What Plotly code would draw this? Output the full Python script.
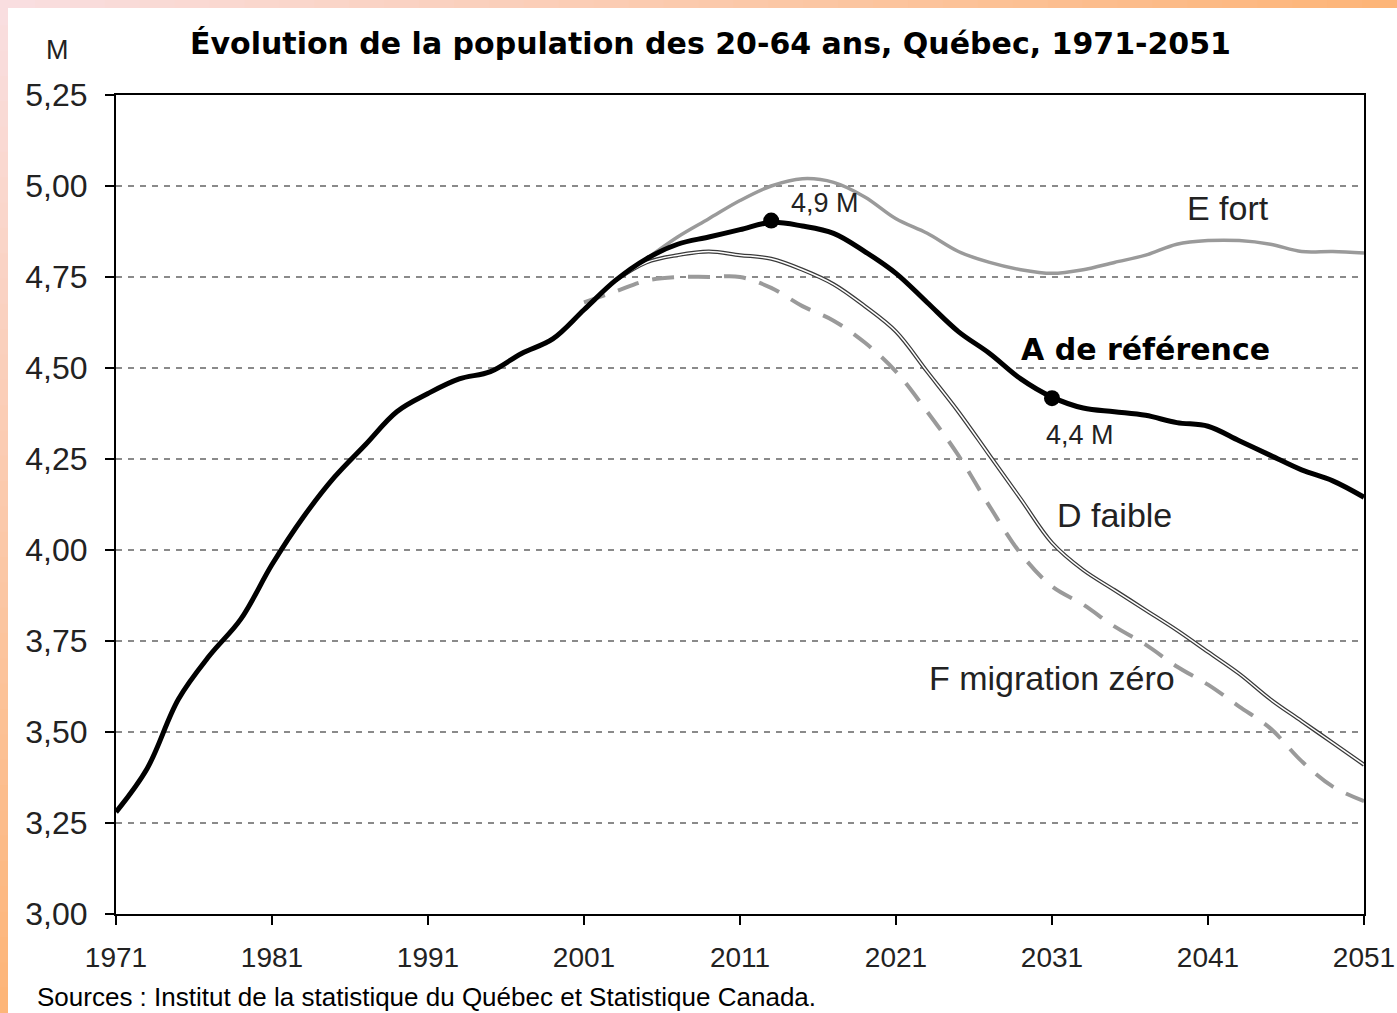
import plotly.graph_objects as go

# ---------------- data ----------------
years_ref = list(range(1971, 2052, 2))
pop_ref = [3.28, 3.40, 3.59, 3.71, 3.81, 3.96, 4.09, 4.20, 4.29, 4.38,
           4.43, 4.47, 4.49, 4.54, 4.58, 4.66, 4.74, 4.80, 4.84, 4.86,
           4.88, 4.90, 4.89, 4.87, 4.82, 4.76, 4.68, 4.60, 4.54, 4.47,
           4.42, 4.39, 4.38, 4.37, 4.35, 4.34, 4.30, 4.26, 4.22, 4.19, 4.145]

years_proj = list(range(2003, 2052, 2))
pop_fort = [4.74, 4.80, 4.86, 4.91, 4.96, 5.00, 5.02, 5.01, 4.97, 4.91,
            4.87, 4.82, 4.79, 4.77, 4.76, 4.77, 4.79, 4.81, 4.84, 4.85,
            4.85, 4.84, 4.82, 4.82, 4.816]
pop_faible = [4.74, 4.79, 4.81, 4.82, 4.81, 4.80, 4.77, 4.73, 4.67, 4.60,
              4.49, 4.38, 4.26, 4.14, 4.02, 3.945, 3.89, 3.835, 3.78, 3.72,
              3.66, 3.59, 3.53, 3.47, 3.41]

years_mig = list(range(2001, 2052, 2))
pop_mig = [4.68, 4.71, 4.74, 4.75, 4.75, 4.75, 4.72, 4.67, 4.63, 4.57,
           4.49, 4.38, 4.26, 4.12, 3.99, 3.90, 3.85, 3.79, 3.74, 3.68,
           3.63, 3.57, 3.51, 3.42, 3.35, 3.31]

marker_years = [2013, 2031]
marker_vals = [4.905, 4.417]
marker_labels = ["4,9 M", "4,4 M"]

x_ticks = list(range(1971, 2052, 10))
y_ticks = [3.00, 3.25, 3.50, 3.75, 4.00, 4.25, 4.50, 4.75, 5.00, 5.25]

title_text = "Évolution de la population des 20-64 ans, Québec, 1971-2051"
source_text = "Sources : Institut de la statistique du Québec et Statistique Canada."

# ---------------- geometry ----------------
W, H = 1397, 1013
ML, MR, MT, MB = 116, 33, 95, 99
PW, PH = W - ML - MR, H - MT - MB

def px(p):
    return (p - ML) / PW

def py(p):
    return (H - MB - p) / PH

FONT = "Liberation Sans, Arial, sans-serif"
BOLD = "DejaVu Sans, Verdana, sans-serif"

fig = go.Figure()

fig.add_trace(go.Scatter(x=years_proj, y=pop_fort, mode="lines",
                         line=dict(color="#9a9a9a", width=3.5, shape="spline"),
                         hoverinfo="skip", showlegend=False))
fig.add_trace(go.Scatter(x=years_mig, y=pop_mig, mode="lines",
                         line=dict(color="#9a9a9a", width=4, dash="22px,14px", shape="spline"),
                         hoverinfo="skip", showlegend=False))
fig.add_trace(go.Scatter(x=years_proj, y=pop_faible, mode="lines",
                         line=dict(color="#3a3a3a", width=4, shape="spline"),
                         hoverinfo="skip", showlegend=False))
fig.add_trace(go.Scatter(x=years_proj, y=pop_faible, mode="lines",
                         line=dict(color="#ffffff", width=1.5, shape="spline"),
                         hoverinfo="skip", showlegend=False))
fig.add_trace(go.Scatter(x=years_ref, y=pop_ref, mode="lines",
                         line=dict(color="#000000", width=5, shape="spline"),
                         hoverinfo="skip", showlegend=False))
fig.add_trace(go.Scatter(x=marker_years, y=marker_vals, mode="markers",
                         marker=dict(color="#000000", size=16),
                         hoverinfo="skip", showlegend=False))

# gradient border strips
shapes = []
N = 40
pink = (249, 222, 224)
orange = (253, 181, 120)

def mix(t):
    return "rgb(%d,%d,%d)" % tuple(round(pink[i] + (orange[i] - pink[i]) * t) for i in range(3))

for i in range(N):
    t = i / (N - 1)
    shapes.append(dict(type="rect", xref="paper", yref="paper", layer="above",
                       x0=px(W * i / N), x1=px(W * (i + 1) / N + 1),
                       y0=py(0), y1=py(8), line=dict(width=0), fillcolor=mix(t)))
    shapes.append(dict(type="rect", xref="paper", yref="paper", layer="above",
                       x0=px(0), x1=px(8),
                       y0=py(H * i / N), y1=py(H * (i + 1) / N + 1),
                       line=dict(width=0), fillcolor=mix(t)))

def pa(text, x, y, size, family=FONT, color="#222222", xanchor="center"):
    return dict(text=text, x=px(x), y=py(y), xref="paper", yref="paper",
                xanchor=xanchor, yanchor="middle", showarrow=False,
                font=dict(size=size, color=color, family=family))

def da(text, x, y, size, family=FONT, color="#222222"):
    return dict(text=text, x=x, y=y, xanchor="center", yanchor="middle", showarrow=False,
                font=dict(size=size, color=color, family=family))

annotations = [
    pa("<b>" + title_text + "</b>", 710, 43, 30, family=BOLD, color="#000000"),
    pa("M", 57, 50, 27),
    pa(source_text, 35, 997, 26, xanchor="left", color="#000000"),
    da("E fort", 2042.3, 4.94, 34),
    da("<b>A de référence</b>", 2037.0, 4.55, 30, family=BOLD, color="#000000"),
    da("D faible", 2035.0, 4.096, 34),
    da("F migration zéro", 2031.0, 3.648, 34),
    da(marker_labels[0], 2016.45, 4.953, 27),
    da(marker_labels[1], 2032.8, 4.316, 27),
]

fig.update_layout(
    width=W, height=H, autosize=False,
    margin=dict(l=ML, r=MR, t=MT, b=MB, pad=0, autoexpand=False),
    paper_bgcolor="#ffffff", plot_bgcolor="#ffffff",
    separators=",.",
    shapes=shapes, annotations=annotations,
    font=dict(family=FONT, color="#222222"),
)
fig.update_xaxes(range=[1971, 2051], tickvals=x_ticks, ticktext=[str(v) for v in x_ticks],
                 showgrid=False, zeroline=False, showline=True, mirror=True,
                 linecolor="#000000", linewidth=2, ticks="outside", ticklen=9,
                 tickwidth=2, tickcolor="#000000", ticklabelstandoff=8,
                 tickfont=dict(size=28, color="#222222", family=FONT))
fig.update_yaxes(range=[3.0, 5.25], tickvals=y_ticks, tickformat=".2f",
                 showgrid=True, gridcolor="#8a8a8a", gridwidth=1.5, griddash="6px,6px",
                 zeroline=False, showline=True, mirror=True,
                 linecolor="#000000", linewidth=2, ticks="outside", ticklen=9,
                 tickwidth=2, tickcolor="#000000", ticklabelstandoff=11,
                 tickfont=dict(size=32, color="#222222", family=FONT))

fig.write_html("out.html", config={"displayModeBar": False},
               post_script="document.body.style.margin='0';document.body.style.overflow='hidden';")
